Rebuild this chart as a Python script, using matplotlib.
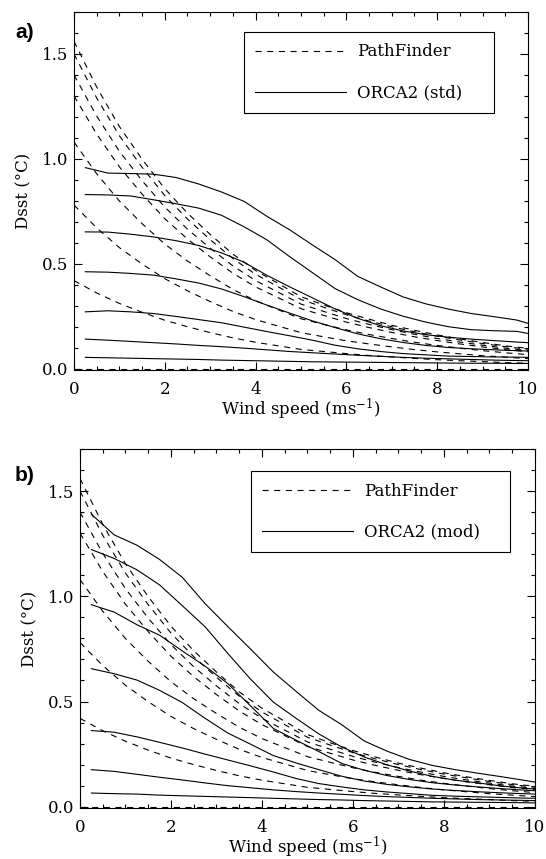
import matplotlib
matplotlib.use("Agg")
import matplotlib.pyplot as plt
from matplotlib.ticker import MultipleLocator, FormatStrFormatter

plt.rcParams['font.family'] = ['DejaVu Serif']
plt.rcParams['mathtext.fontset'] = 'dejavuserif'

# wind speed grids (m/s)
wind_pf = [0.0, 0.5, 1.0, 1.5, 2.0, 2.5, 3.0, 3.5, 4.0, 4.5, 5.0,
           5.5, 6.0, 6.5, 7.0, 7.5, 8.0, 8.5, 9.0, 9.5, 10.0]
wind_orca = [0.25, 0.75, 1.25, 1.75, 2.25, 2.75, 3.25, 3.75, 4.25, 4.75, 5.25,
             5.75, 6.25, 6.75, 7.25, 7.75, 8.25, 8.75, 9.25, 9.75, 10.0]

# PathFinder Dsst curves (same in both panels)
pf_dsst = [
    [1.56, 1.342, 1.154, 0.998, 0.858, 0.741, 0.640, 0.546, 0.468, 0.406, 0.343,
     0.304, 0.267, 0.236, 0.207, 0.183, 0.161, 0.142, 0.125, 0.109, 0.097],
    [1.50, 1.29, 1.11, 0.96, 0.825, 0.713, 0.615, 0.525, 0.45, 0.39, 0.33,
     0.293, 0.257, 0.227, 0.20, 0.176, 0.155, 0.137, 0.12, 0.105, 0.093],
    [1.40, 1.204, 1.036, 0.896, 0.77, 0.665, 0.574, 0.49, 0.42, 0.364, 0.308,
     0.273, 0.239, 0.211, 0.186, 0.164, 0.144, 0.127, 0.112, 0.098, 0.087],
    [1.30, 1.118, 0.962, 0.832, 0.715, 0.618, 0.533, 0.455, 0.39, 0.338, 0.286,
     0.254, 0.222, 0.196, 0.173, 0.152, 0.134, 0.118, 0.104, 0.091, 0.081],
    [1.08, 0.929, 0.799, 0.691, 0.594, 0.513, 0.443, 0.378, 0.324, 0.281, 0.238,
     0.211, 0.185, 0.163, 0.144, 0.126, 0.111, 0.098, 0.086, 0.076, 0.067],
    [0.78, 0.671, 0.577, 0.499, 0.429, 0.371, 0.32, 0.273, 0.234, 0.203, 0.172,
     0.152, 0.133, 0.118, 0.104, 0.091, 0.080, 0.071, 0.062, 0.055, 0.048],
    [0.42, 0.361, 0.311, 0.269, 0.231, 0.2, 0.172, 0.147, 0.126, 0.109, 0.092,
     0.082, 0.072, 0.063, 0.056, 0.049, 0.043, 0.038, 0.034, 0.029, 0.026],
    [0.0] * 21,
]

# ORCA2 standard (panel a)
orca_std = [
    [0.958, 0.932, 0.930, 0.927, 0.911, 0.880, 0.842, 0.797, 0.726, 0.662, 0.590,
     0.520, 0.440, 0.390, 0.342, 0.309, 0.284, 0.263, 0.248, 0.232, 0.216],
    [0.830, 0.828, 0.823, 0.805, 0.786, 0.765, 0.731, 0.676, 0.614, 0.534, 0.458,
     0.382, 0.329, 0.285, 0.250, 0.222, 0.200, 0.186, 0.181, 0.178, 0.168],
    [0.652, 0.651, 0.641, 0.628, 0.610, 0.587, 0.552, 0.507, 0.445, 0.390, 0.338,
     0.285, 0.240, 0.205, 0.180, 0.162, 0.150, 0.141, 0.134, 0.127, 0.124],
    [0.462, 0.460, 0.454, 0.446, 0.428, 0.408, 0.380, 0.343, 0.303, 0.265, 0.228,
     0.196, 0.166, 0.143, 0.125, 0.111, 0.101, 0.095, 0.090, 0.086, 0.084],
    [0.271, 0.276, 0.271, 0.263, 0.249, 0.234, 0.219, 0.198, 0.177, 0.157, 0.136,
     0.112, 0.095, 0.082, 0.072, 0.066, 0.060, 0.058, 0.056, 0.055, 0.054],
    [0.141, 0.136, 0.130, 0.124, 0.118, 0.111, 0.105, 0.098, 0.090, 0.082, 0.076,
     0.070, 0.064, 0.059, 0.054, 0.050, 0.047, 0.044, 0.041, 0.039, 0.038],
    [0.054, 0.052, 0.050, 0.048, 0.046, 0.044, 0.041, 0.039, 0.037, 0.035, 0.033,
     0.032, 0.031, 0.030, 0.029, 0.028, 0.027, 0.026, 0.026, 0.025, 0.025],
]

# ORCA2 modified (panel b)
orca_mod = [
    [1.390, 1.292, 1.243, 1.175, 1.090, 0.965, 0.856, 0.749, 0.640, 0.548, 0.458,
     0.390, 0.312, 0.264, 0.224, 0.196, 0.176, 0.159, 0.143, 0.126, 0.117],
    [1.222, 1.180, 1.126, 1.054, 0.955, 0.855, 0.728, 0.606, 0.497, 0.420, 0.346,
     0.284, 0.236, 0.199, 0.169, 0.144, 0.126, 0.113, 0.099, 0.088, 0.084],
    [0.960, 0.925, 0.865, 0.815, 0.740, 0.668, 0.585, 0.479, 0.372, 0.316, 0.262,
     0.206, 0.173, 0.148, 0.129, 0.114, 0.103, 0.094, 0.086, 0.079, 0.076],
    [0.656, 0.632, 0.602, 0.553, 0.495, 0.420, 0.350, 0.297, 0.243, 0.208, 0.176,
     0.145, 0.122, 0.106, 0.094, 0.084, 0.077, 0.071, 0.066, 0.062, 0.060],
    [0.362, 0.354, 0.332, 0.306, 0.279, 0.250, 0.222, 0.194, 0.165, 0.134, 0.110,
     0.094, 0.080, 0.070, 0.062, 0.054, 0.050, 0.047, 0.044, 0.041, 0.040],
    [0.176, 0.168, 0.154, 0.140, 0.127, 0.113, 0.100, 0.090, 0.080, 0.072, 0.065,
     0.059, 0.053, 0.048, 0.044, 0.040, 0.037, 0.034, 0.032, 0.030, 0.029],
    [0.065, 0.062, 0.060, 0.055, 0.052, 0.049, 0.046, 0.043, 0.040, 0.037, 0.034,
     0.032, 0.029, 0.027, 0.025, 0.023, 0.022, 0.021, 0.020, 0.019, 0.018],
]

dash = (0, (5.5, 5))
lw = 0.8

fig = plt.figure(figsize=(5.46, 8.59), dpi=100)
ax_a = fig.add_axes([0.1355, 0.5693, 0.8315, 0.4168])
ax_b = fig.add_axes([0.1465, 0.0594, 0.8333, 0.4179])


def draw_panel(ax, orca, orca_label, leg_box):
    for i, d in enumerate(pf_dsst):
        ax.plot(wind_pf, d, color='black', lw=lw, linestyle=dash,
                label='PathFinder' if i == 0 else None)
    for i, d in enumerate(orca):
        ax.plot(wind_orca, d, color='black', lw=lw,
                label=orca_label if i == 0 else None)

    ax.set_xlim(0, 10)
    ax.set_ylim(-0.006, 1.70)
    ax.xaxis.set_major_locator(MultipleLocator(2))
    ax.xaxis.set_minor_locator(MultipleLocator(0.5))
    ax.yaxis.set_major_locator(MultipleLocator(0.5))
    ax.yaxis.set_minor_locator(MultipleLocator(0.1))
    ax.yaxis.set_major_formatter(FormatStrFormatter('%.1f'))
    ax.tick_params(which='both', direction='in', top=True, right=True,
                   width=0.8, labelsize=12)
    ax.tick_params(which='major', length=6)
    ax.tick_params(which='minor', length=3)
    ax.tick_params(axis='x', pad=8)
    ax.tick_params(axis='y', pad=4)
    for s in ax.spines.values():
        s.set_linewidth(0.8)

    ax.set_xlabel('Wind speed (ms$^{-1}$)', fontsize=12, labelpad=-1)
    ax.set_ylabel('Dsst (°C)', fontsize=12, labelpad=7)

    leg = ax.legend(loc='upper left', bbox_to_anchor=leg_box, mode='expand',
                    borderaxespad=0, fontsize=12, frameon=True, fancybox=False,
                    edgecolor='black', framealpha=1, handlelength=5.45,
                    handletextpad=0.66, labelspacing=1.45, borderpad=0.69)
    leg.get_frame().set_linewidth(0.8)


draw_panel(ax_a, orca_std, 'ORCA2 (std)', (0.3744, 0.7067, 0.5507, 0.2374))
draw_panel(ax_b, orca_mod, 'ORCA2 (mod)', (0.3758, 0.7047, 0.569, 0.234))

fig.text(25 / 546, 1 - 33 / 859, 'a)', fontsize=15, fontweight='bold',
         family='Liberation Sans', ha='center', va='center')
fig.text(25 / 546, 1 - 476 / 859, 'b)', fontsize=15, fontweight='bold',
         family='Liberation Sans', ha='center', va='center')

fig.savefig('out.png', dpi=100)
